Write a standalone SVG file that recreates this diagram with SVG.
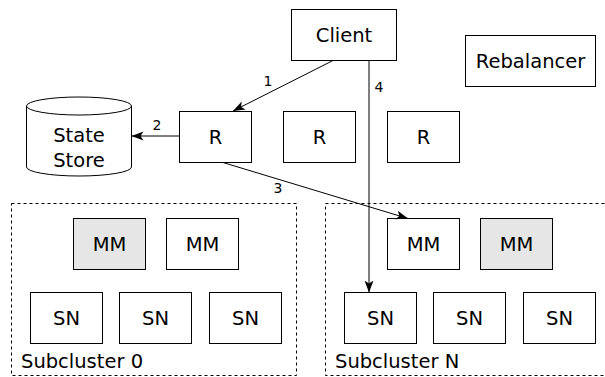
<svg xmlns="http://www.w3.org/2000/svg" width="605" height="377" viewBox="0 0 605 377">
<style>
.box{fill:#fff;stroke:#000;stroke-width:1}
.gray{fill:#e6e6e6;stroke:#000;stroke-width:1}
.cluster{fill:none;stroke:#000;stroke-width:1;stroke-dasharray:3 3}
.t{font-family:"DejaVu Sans",Verdana,sans-serif;font-size:19.5px;fill:#000;text-anchor:middle}
.lbl{font-family:"DejaVu Sans",Verdana,sans-serif;font-size:19.5px;fill:#000}
.n{font-family:"DejaVu Sans",Verdana,sans-serif;font-size:14px;fill:#000;text-anchor:middle}
.edge{fill:none;stroke:#000;stroke-width:1;marker-end:url(#arr)}
</style>
<defs>
<marker id="arr" markerUnits="userSpaceOnUse" markerWidth="13" markerHeight="10" refX="12" refY="4.5" orient="auto">
<path d="M0,0 L12,4.5 L0,9 L3,4.5 Z" fill="#000"/>
</marker>
</defs>
<g id="subcluster0">
<rect class="cluster" x="11.5" y="203.5" width="285" height="172"/>
<text class="lbl" x="21" y="368">Subcluster 0</text>
</g>
<g id="subclusterN">
<rect class="cluster" x="325.5" y="203.5" width="290" height="172"/>
<text class="lbl" x="335" y="368">Subcluster N</text>
</g>
<g id="client"><rect class="box" x="291.5" y="9.5" width="105" height="51"/><text class="t" x="344" y="42">Client</text></g>
<g id="rebalancer"><rect class="box" x="465.5" y="35.5" width="130" height="51"/><text class="t" x="530.5" y="68">Rebalancer</text></g>
<g id="statestore">
<path class="box" d="M26.5,106 A52.5,9 0 0 1 131.5,106 L131.5,167 A52.5,9 0 0 1 26.5,167 Z"/>
<path fill="none" stroke="#000" d="M26.5,106 A52.5,9 0 0 0 131.5,106"/>
<text class="t" x="79" y="142">State</text>
<text class="t" x="79" y="167">Store</text>
</g>
<g id="r1"><rect class="box" x="179.5" y="111.5" width="72" height="51"/><text class="t" x="215.5" y="144">R</text></g>
<g id="r2"><rect class="box" x="283.5" y="111.5" width="72" height="51"/><text class="t" x="319.5" y="144">R</text></g>
<g id="r3"><rect class="box" x="387.5" y="111.5" width="72" height="51"/><text class="t" x="423.5" y="144">R</text></g>
<g id="mm0a"><rect class="gray" x="73.5" y="218.5" width="72" height="51"/><text class="t" x="109.5" y="251">MM</text></g>
<g id="mm0b"><rect class="box" x="166.5" y="218.5" width="72" height="51"/><text class="t" x="202.5" y="251">MM</text></g>
<g id="sn0a"><rect class="box" x="30.5" y="292.5" width="72" height="51"/><text class="t" x="66.5" y="325">SN</text></g>
<g id="sn0b"><rect class="box" x="119.5" y="292.5" width="72" height="51"/><text class="t" x="155.5" y="325">SN</text></g>
<g id="sn0c"><rect class="box" x="209.5" y="292.5" width="72" height="51"/><text class="t" x="245.5" y="325">SN</text></g>
<g id="mmNa"><rect class="box" x="387.5" y="218.5" width="72" height="51"/><text class="t" x="423.5" y="251">MM</text></g>
<g id="mmNb"><rect class="gray" x="480.5" y="218.5" width="72" height="51"/><text class="t" x="516.5" y="251">MM</text></g>
<g id="snNa"><rect class="box" x="344.5" y="292.5" width="72" height="51"/><text class="t" x="380.5" y="325">SN</text></g>
<g id="snNb"><rect class="box" x="433.5" y="292.5" width="72" height="51"/><text class="t" x="469.5" y="325">SN</text></g>
<g id="snNc"><rect class="box" x="523.5" y="292.5" width="72" height="51"/><text class="t" x="559.5" y="325">SN</text></g>
<g id="connectors">
<path class="edge" d="M333,60.5 L233,111"/>
<text class="n" x="268" y="86">1</text>
<path class="edge" d="M179.5,136 L131.5,136"/>
<text class="n" x="157" y="130">2</text>
<path class="edge" d="M223,162.5 L408,218.5"/>
<text class="n" x="278" y="193">3</text>
<path class="edge" d="M369,60.5 L369,292.5"/>
<text class="n" x="379" y="92">4</text>
</g>
</svg>
